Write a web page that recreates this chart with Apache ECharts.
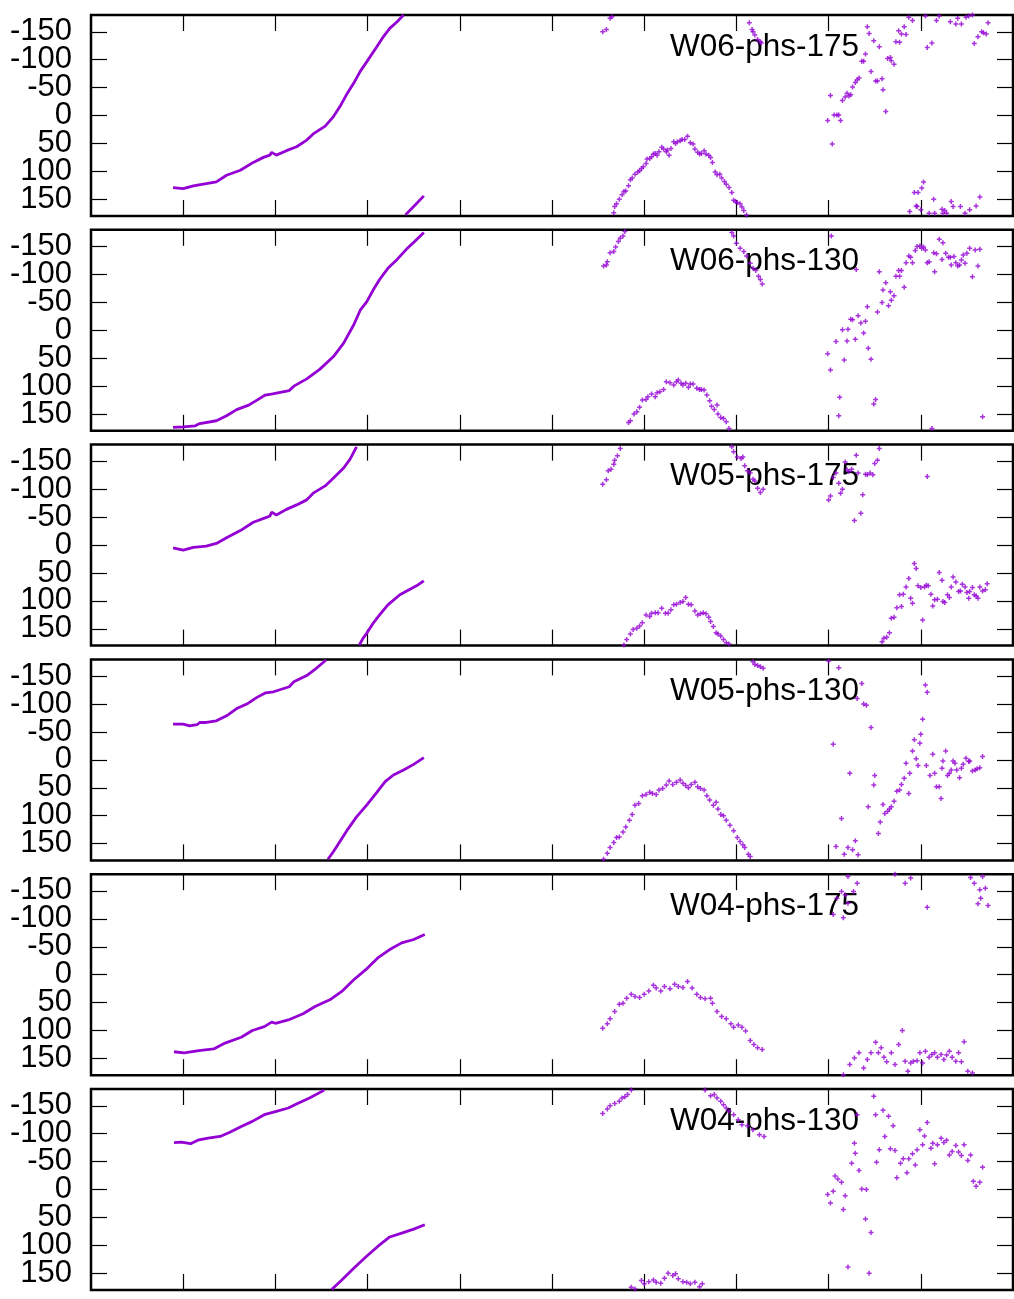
<!DOCTYPE html>
<html>
<head>
<meta charset="utf-8">
<script src="https://cdn.jsdelivr.net/npm/echarts@6/dist/echarts.min.js"></script>
<style>
html,body{margin:0;padding:0;background:#fff;}
#chart{width:1014px;height:1299px;}
</style>
</head>
<body>
<div id="chart"></div>
<script>
// ---------------- data ----------------
const panelLabels = ['W06-phs-175','W06-phs-130','W05-phs-175','W05-phs-130','W04-phs-175','W04-phs-130'];
const yTickValues = [-150,-100,-50,0,50,100,150];
const yLabelsOdd = [-150,-50,50,150];
const yLabelsEven = [-100,0,100];
const xTickValues = [1,2,3,4,5,6,7,8,9];

// panel 1 : W06-phs-175
const p1LineA = [[0.89,129],[1.00,131],[1.11,126],[1.25,122],[1.36,119],[1.47,107],[1.62,98],[1.76,84],[1.87,75],[1.94,71],[1.96,66],[2.01,71],[2.12,63],[2.23,56],[2.34,44],[2.41,33],[2.54,19],[2.63,2],[2.70,-16],[2.77,-37],[2.85,-58],[2.92,-79],[2.99,-96],[3.10,-123],[3.17,-141],[3.24,-156],[3.32,-168],[3.39,-180]];
const p1LineB = [[3.41,178],[3.50,163],[3.61,144]];
const p1Pts = [[5.55,-150],[5.59,-154],[5.63,-174],[5.65,-177],
[5.67,174],[5.68,163],[5.70,158],[5.73,150],[5.76,142],[5.78,136],[5.80,135],[5.83,126],[5.85,115],[5.87,112],[5.90,105],[5.93,101],[5.95,99],[5.97,95],[5.99,92],[6.02,86],[6.03,78],[6.06,77],[6.08,74],[6.10,69],[6.12,68],[6.14,71],[6.16,65],[6.19,57],[6.21,60],[6.24,65],[6.25,62],[6.27,71],[6.29,59],[6.32,47],[6.34,50],[6.36,47],[6.39,45],[6.41,43],[6.44,43],[6.47,37],[6.50,49],[6.53,51],[6.55,60],[6.58,66],[6.60,69],[6.62,68],[6.65,63],[6.67,69],[6.70,71],[6.72,75],[6.74,84],[6.77,101],[6.79,106],[6.82,105],[6.84,112],[6.87,118],[6.89,123],[6.92,129],[6.95,138],[6.97,152],[6.99,154],[7.01,156],[7.04,158],[7.06,164],[7.08,170],[7.11,178],
[7.14,-166],[7.17,-154],[7.18,-150],[7.20,-144],[7.23,-136],[7.26,-132],[7.27,-130],
[7.99,9],[8.02,-36],[8.04,51],[8.06,-1],[8.09,-1],[8.11,-1],[8.13,9],[8.15,-27],[8.18,-33],[8.20,-40],[8.22,-35],[8.24,-37],[8.26,-51],[8.29,-59],[8.31,-64],[8.33,-67],[8.36,-97],[8.38,-97],[8.40,-110],[8.42,-159],[8.44,-147],[8.46,-79],[8.49,-134],[8.51,-62],[8.53,-62],[8.55,-123],[8.58,-66],[8.59,-46],[8.62,-7],[8.64,-102],[8.67,-104],[8.68,-98],[8.71,-92],[8.73,-132],[8.76,-152],[8.77,-131],[8.79,-146],[8.82,-159],[8.84,-145],[8.87,-176],[8.88,172],[8.91,-170],[8.93,138],[8.95,162],[8.96,163],[8.97,138],[9.00,169],[9.01,130],[9.03,119],[9.05,-178],[9.07,-122],[9.09,175],[9.12,-130],[9.14,150],[9.15,175],[9.17,-170],[9.20,-178],[9.23,168],[9.24,175],[9.26,170],[9.28,175],[9.32,-168],[9.33,154],[9.35,163],[9.38,-164],[9.40,-174],[9.43,163],[9.44,-164],[9.48,175],[9.49,-176],[9.52,-178],[9.53,169],[9.56,-180],[9.58,-129],[9.60,162],[9.62,-141],[9.64,146],[9.66,-150],[9.68,-148],[9.71,-146],[9.73,-166]];

// panel 2 : W06-phs-130
const p2LineA = [[0.89,174],[1.00,173],[1.13,171],[1.18,167],[1.36,162],[1.47,153],[1.58,142],[1.71,134],[1.80,125],[1.89,116],[1.97,114],[2.15,108],[2.20,100],[2.34,87],[2.48,70],[2.63,47],[2.74,23],[2.85,-10],[2.92,-36],[2.99,-51],[3.06,-72],[3.13,-91],[3.22,-111],[3.32,-127],[3.42,-145],[3.51,-159],[3.61,-175]];
const p2Pts = [[5.56,-115],[5.59,-117],[5.60,-123],[5.63,-139],[5.67,-141],[5.69,-149],[5.72,-159],[5.74,-165],[5.77,-169],[5.79,-177],
[5.83,165],[5.85,162],[5.89,150],[5.92,146],[5.95,138],[5.98,125],[6.02,124],[6.04,119],[6.08,114],[6.12,119],[6.14,112],[6.17,110],[6.21,106],[6.24,92],[6.28,94],[6.32,98],[6.35,92],[6.37,89],[6.40,95],[6.42,98],[6.45,95],[6.48,102],[6.50,96],[6.53,96],[6.57,104],[6.60,106],[6.62,106],[6.65,107],[6.68,116],[6.71,126],[6.73,136],[6.76,142],[6.79,134],[6.80,150],[6.83,156],[6.86,158],[6.89,164],[6.92,176],
[6.95,-175],[6.97,-169],[7.00,-156],[7.04,-147],[7.08,-141],[7.11,-133],[7.15,-120],[7.18,-111],[7.21,-107],[7.24,-97],[7.26,-91],[7.28,-83],
[7.99,42],[8.02,71],[8.03,-169],[8.08,20],[8.11,153],[8.12,120],[8.15,-1],[8.17,53],[8.20,19],[8.21,-2],[8.24,-20],[8.26,-19],[8.29,16],[8.30,-109],[8.32,-26],[8.35,-13],[8.38,5],[8.40,-16],[8.42,-42],[8.43,32],[8.46,52],[8.49,132],[8.51,124],[8.53,-33],[8.55,-105],[8.58,-50],[8.59,-72],[8.62,-85],[8.65,-44],[8.67,-69],[8.68,-54],[8.71,-62],[8.73,-97],[8.76,-107],[8.77,-97],[8.79,-107],[8.82,-77],[8.84,-121],[8.87,-133],[8.89,-131],[8.91,-121],[8.94,-143],[8.96,-150],[8.99,-151],[9.01,-147],[9.03,-149],[9.05,-144],[9.07,-121],[9.09,-123],[9.12,176],[9.14,-139],[9.15,-105],[9.17,-137],[9.20,-163],[9.23,-127],[9.24,-157],[9.27,-138],[9.30,-131],[9.32,-131],[9.33,-117],[9.36,-132],[9.38,-121],[9.40,-115],[9.42,-117],[9.44,-126],[9.46,-135],[9.48,-120],[9.50,-138],[9.53,-147],[9.56,-96],[9.59,-144],[9.62,-115],[9.64,-145],[9.67,155]];

// panel 3 : W05-phs-175
const p3LineA = [[0.89,5],[1.00,9],[1.11,4],[1.25,2],[1.36,-3],[1.47,-13],[1.62,-26],[1.76,-41],[1.91,-50],[1.94,-52],[1.96,-59],[2.01,-54],[2.12,-64],[2.23,-72],[2.34,-81],[2.41,-93],[2.54,-106],[2.63,-120],[2.74,-138],[2.81,-154],[2.88,-176]];
const p3LineB = [[2.91,179],[2.95,167],[2.99,158],[3.06,140],[3.13,125],[3.22,107],[3.35,89],[3.46,79],[3.53,73],[3.61,64]];
const p3Pts = [[5.55,-109],[5.59,-117],[5.61,-133],[5.64,-136],[5.67,-145],[5.68,-152],[5.71,-160],[5.74,-173],
[5.78,179],[5.81,169],[5.85,159],[5.88,151],[5.92,149],[5.95,145],[5.98,139],[6.02,125],[6.06,128],[6.08,122],[6.12,121],[6.15,121],[6.19,113],[6.23,122],[6.26,122],[6.29,116],[6.32,107],[6.35,106],[6.39,103],[6.42,101],[6.45,94],[6.48,106],[6.51,107],[6.55,118],[6.58,125],[6.61,123],[6.64,121],[6.67,123],[6.70,129],[6.72,137],[6.75,146],[6.78,157],[6.80,159],[6.83,163],[6.86,169],[6.89,175],[6.92,177],
[6.95,-176],[6.97,-167],[7.01,-158],[7.05,-155],[7.07,-158],[7.09,-142],[7.12,-133],[7.15,-129],[7.18,-118],[7.20,-115],[7.23,-102],[7.26,-94],[7.29,-100],
[8.00,-81],[8.02,-88],[8.05,-121],[8.08,-129],[8.11,-111],[8.13,-93],[8.15,-100],[8.18,-149],[8.20,-135],[8.22,-132],[8.25,-136],[8.28,-44],[8.30,-161],[8.32,-129],[8.35,-57],[8.37,-90],[8.40,-127],[8.42,-126],[8.45,-129],[8.48,-126],[8.50,-146],[8.53,-152],[8.55,-173],[9.07,-123],
[8.58,173],[8.60,167],[8.63,165],[8.66,157],[8.68,131],[8.71,129],[8.74,112],[8.77,89],[8.79,110],[8.81,88],[8.84,75],[8.87,60],[8.89,95],[8.91,104],[8.93,33],[8.95,42],[8.97,73],[9.00,76],[9.02,134],[9.04,75],[9.06,72],[9.08,73],[9.11,88],[9.13,109],[9.15,98],[9.18,97],[9.20,49],[9.23,63],[9.24,101],[9.26,103],[9.29,89],[9.31,94],[9.33,75],[9.35,57],[9.38,66],[9.41,83],[9.43,82],[9.45,70],[9.48,75],[9.50,85],[9.52,95],[9.53,83],[9.56,76],[9.58,89],[9.60,91],[9.62,95],[9.64,75],[9.67,82],[9.70,80],[9.72,69]];

// panel 4 : W05-phs-130
const p4LineA = [[0.89,-64],[1.00,-64],[1.07,-61],[1.15,-63],[1.18,-67],[1.25,-67],[1.36,-70],[1.47,-79],[1.58,-92],[1.69,-100],[1.80,-112],[1.89,-120],[1.98,-122],[2.15,-131],[2.20,-140],[2.34,-151],[2.45,-165],[2.55,-179]];
const p4LineB = [[2.57,178],[2.63,164],[2.70,146],[2.79,123],[2.88,102],[2.99,81],[3.10,58],[3.19,39],[3.28,27],[3.39,18],[3.50,8],[3.61,-4]];
const p4Pts = [[5.56,178],[5.60,167],[5.63,157],[5.67,148],[5.70,139],[5.73,138],[5.77,129],[5.80,120],[5.84,108],[5.87,98],[5.90,81],[5.94,78],[5.98,64],[6.02,62],[6.06,58],[6.09,60],[6.13,62],[6.16,54],[6.20,51],[6.24,45],[6.27,38],[6.31,44],[6.35,40],[6.39,36],[6.42,42],[6.45,46],[6.48,50],[6.51,44],[6.55,40],[6.58,48],[6.61,51],[6.65,54],[6.68,64],[6.71,72],[6.75,81],[6.78,76],[6.80,88],[6.83,98],[6.86,100],[6.89,108],[6.93,117],[6.97,127],[7.01,139],[7.04,146],[7.07,152],[7.09,157],[7.13,169],[7.15,173],
[7.18,-176],[7.20,-171],[7.23,-169],[7.26,-167],[7.29,-164],
[8.00,-177],[8.05,-28],[8.08,155],[8.11,-165],[8.14,105],[8.17,169],[8.21,157],[8.23,24],[8.26,161],[8.29,145],[8.31,-110],[8.32,170],[8.36,-137],[8.38,-100],[8.41,-98],[8.43,84],[8.46,-58],[8.49,45],[8.50,28],[8.54,132],[8.56,111],[8.59,80],[8.61,96],[8.64,92],[8.66,88],[8.68,84],[8.71,74],[8.74,56],[8.77,54],[8.79,44],[8.82,33],[8.84,6],[8.87,60],[8.88,24],[8.91,-16],[8.93,-36],[8.95,-2],[8.97,10],[8.99,-30],[9.00,-46],[9.02,-73],[9.05,-134],[9.07,-121],[9.06,10],[9.10,28],[9.13,-10],[9.15,24],[9.17,48],[9.20,48],[9.22,69],[9.23,15],[9.24,2],[9.27,-16],[9.29,28],[9.31,24],[9.33,18],[9.35,2],[9.37,6],[9.39,18],[9.42,32],[9.44,15],[9.46,8],[9.49,-3],[9.52,3],[9.53,2],[9.56,20],[9.59,18],[9.61,16],[9.64,14],[9.67,-6]];

// panel 5 : W04-phs-175
const p5LineA = [[0.90,138],[1.01,140],[1.17,136],[1.33,133],[1.46,122],[1.63,112],[1.75,100],[1.88,93],[1.96,85],[2.00,87],[2.14,81],[2.30,70],[2.43,57],[2.59,45],[2.72,30],[2.85,9],[2.98,-9],[3.11,-30],[3.24,-45],[3.37,-57],[3.50,-63],[3.62,-72]];
const p5Pts = [[5.55,96],[5.60,88],[5.63,79],[5.68,66],[5.73,53],[5.77,51],[5.81,42],[5.86,35],[5.90,39],[5.95,41],[6.00,35],[6.05,29],[6.10,19],[6.13,24],[6.18,29],[6.22,21],[6.28,25],[6.33,17],[6.37,21],[6.42,23],[6.47,12],[6.52,24],[6.57,35],[6.61,41],[6.66,43],[6.72,42],[6.74,51],[6.79,66],[6.84,75],[6.89,79],[6.94,88],[6.97,94],[7.02,90],[7.06,94],[7.10,101],[7.15,118],[7.19,125],[7.23,131],[7.28,134],
[8.05,-108],[8.09,-137],[8.14,-149],[8.18,-143],[8.21,-176],[8.27,-149],[8.31,-164],[8.21,-128],[8.16,-102],[8.72,-180],[8.83,-164],[8.89,-173],[9.07,-121],[9.54,-174],[9.58,-164],[9.64,-152],[9.65,-137],[9.70,-155],[9.73,-124],[9.62,-127],[9.67,-176],
[8.16,179],[8.23,161],[8.28,149],[8.33,140],[8.38,167],[8.42,152],[8.46,140],[8.51,121],[8.54,140],[8.57,131],[8.60,148],[8.63,156],[8.68,140],[8.72,161],[8.76,125],[8.80,100],[8.83,155],[8.86,173],[8.89,158],[8.92,155],[8.96,154],[8.99,140],[9.02,158],[9.05,137],[9.09,148],[9.12,143],[9.15,140],[9.18,148],[9.22,143],[9.25,152],[9.28,144],[9.31,137],[9.34,148],[9.38,155],[9.41,140],[9.44,156],[9.47,120],[9.51,173],[9.56,176]];

// panel 6 : W04-phs-130
const p6LineA = [[0.90,-84],[0.98,-85],[1.08,-82],[1.17,-89],[1.27,-92],[1.40,-95],[1.50,-102],[1.63,-113],[1.75,-122],[1.88,-134],[2.01,-140],[2.14,-146],[2.24,-154],[2.37,-164],[2.53,-178]];
const p6LineB = [[2.61,179],[2.72,162],[2.85,141],[2.98,121],[3.11,102],[3.24,85],[3.37,78],[3.50,71],[3.62,63]];
const p6Pts = [[5.55,-136],[5.60,-144],[5.63,-150],[5.68,-154],[5.73,-158],[5.76,-164],[5.79,-166],[5.82,-170],[5.86,-178],
[5.86,175],[5.90,178],[5.97,163],[6.00,169],[6.05,165],[6.10,162],[6.13,166],[6.18,168],[6.22,159],[6.26,150],[6.31,154],[6.34,151],[6.37,160],[6.42,165],[6.46,166],[6.50,169],[6.55,166],[6.60,174],[6.63,169],
[6.66,-178],[6.72,-168],[6.76,-170],[6.79,-164],[6.83,-158],[6.86,-152],[6.89,-146],[6.92,-140],[6.97,-134],[7.02,-125],[7.06,-116],[7.12,-114],[7.18,-107],[7.25,-98],[7.30,-95],
[7.99,9],[8.02,24],[8.05,3],[8.07,-24],[8.10,-19],[8.14,-13],[8.16,36],[8.18,11],[8.21,139],[8.25,-47],[8.28,-83],[8.29,-65],[8.31,-134],[8.33,-34],[8.36,-1],[8.40,53],[8.41,0],[8.44,150],[8.46,77],[8.49,-167],[8.51,-134],[8.52,-49],[8.55,-71],[8.59,-142],[8.61,-95],[8.65,-131],[8.67,-73],[8.70,-114],[8.72,-70],[8.74,-21],[8.78,-47],[8.81,-55],[8.85,-30],[8.87,-55],[8.91,-64],[8.94,-44],[8.96,-71],[8.99,-107],[9.02,-80],[9.04,-96],[9.07,-120],[9.11,-74],[9.13,-83],[9.15,-46],[9.18,-80],[9.22,-92],[9.25,-84],[9.28,-88],[9.31,-62],[9.34,-68],[9.38,-79],[9.41,-67],[9.44,-61],[9.47,-80],[9.51,-52],[9.54,-62],[9.57,-15],[9.60,-6],[9.64,-13],[9.67,-40]];

const panelLines = [[p1LineA,p1LineB],[p2LineA],[p3LineA,p3LineB],[p4LineA,p4LineB],[p5LineA],[p6LineA,p6LineB]];
const panelPoints = [p1Pts,p2Pts,p3Pts,p4Pts,p5Pts,p6Pts];

// ---------------- layout ----------------
const FONT = '"Liberation Sans", Arial, Helvetica, sans-serif';
const COLOR = '#9400d3';
const LEFT = 91, WIDTH = 922, HEIGHT = 201, TOP0 = 15, STEP = 214.8;
const PLUS = 'path://M1.75,0H3.25V1.75H5V3.25H3.25V5H1.75V3.25H0V1.75H1.75Z';

const grids = [], xAxes = [], yAxes = [], series = [], graphics = [];
const tickStyle = {show:true, inside:true, length:16, lineStyle:{color:'#000', width:1.2}};
const labelStyle = {fontSize:31, color:'#000', fontFamily:FONT, margin:19, showMinLabel:true, showMaxLabel:true, hideOverlap:false};

for (let i = 0; i < 6; i++) {
  const top = TOP0 + STEP * i;
  grids.push({left:LEFT, top:top, width:WIDTH, height:HEIGHT, show:true, borderColor:'#000', borderWidth:2.5, backgroundColor:'transparent'});
  ['bottom','top'].forEach(pos => {
    xAxes.push({type:'value', gridIndex:i, position:pos, min:0, max:10, interval:1,
      axisLine:{show:false, onZero:false}, splitLine:{show:false},
      axisTick:Object.assign({}, tickStyle, {customValues:xTickValues}),
      axisLabel:{show:false}});
  });
  const yBase = {type:'value', gridIndex:i, min:-180, max:180, inverse:true,
    axisLine:{show:false, onZero:false}, splitLine:{show:false}};
  // left axis: ticks + odd labels
  yAxes.push(Object.assign({}, yBase, {position:'left',
    axisTick:Object.assign({}, tickStyle, {customValues:yTickValues}),
    axisLabel:Object.assign({}, labelStyle, {customValues:yLabelsOdd})}));
  // left axis: even labels
  yAxes.push(Object.assign({}, yBase, {position:'left', offset:0,
    axisTick:{show:false},
    axisLabel:Object.assign({}, labelStyle, {customValues:yLabelsEven})}));
  // right axis: mirrored ticks
  yAxes.push(Object.assign({}, yBase, {position:'right',
    axisTick:Object.assign({}, tickStyle, {customValues:yTickValues}),
    axisLabel:{show:false}}));
  panelLines[i].forEach(seg => {
    series.push({type:'line', xAxisIndex:2*i, yAxisIndex:3*i, data:seg, showSymbol:false, smooth:false,
      lineStyle:{color:COLOR, width:2.8}, silent:true, animation:false, z:3});
  });
  series.push({type:'scatter', xAxisIndex:2*i, yAxisIndex:3*i, data:panelPoints[i], symbol:PLUS, symbolSize:5,
    itemStyle:{color:COLOR}, silent:true, animation:false, z:4});
  graphics.push({type:'text', z:0, x:670, y:top+32, style:{text:panelLabels[i], fontSize:31.5, fontFamily:FONT, fill:'#000', align:'left', verticalAlign:'middle'}});
}

const chart = echarts.init(document.getElementById('chart'), null, {renderer:'canvas'});
chart.setOption({
  animation:false,
  backgroundColor:'#fff',
  grid:grids, xAxis:xAxes, yAxis:yAxes, series:series, graphic:graphics
});
</script>
</body>
</html>
